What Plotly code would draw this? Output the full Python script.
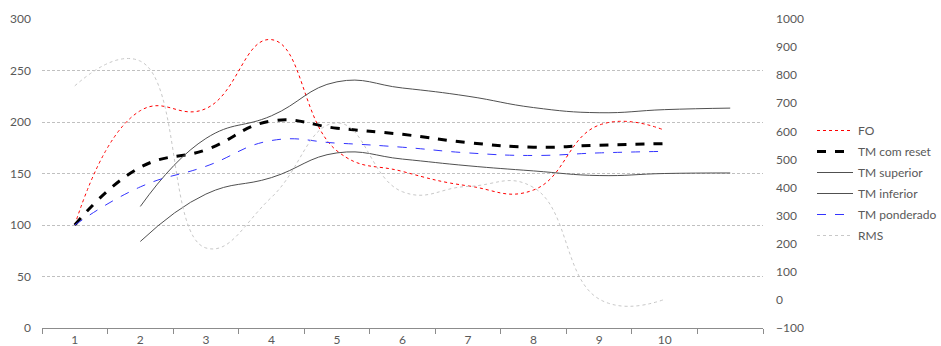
import plotly.graph_objects as go

x_main = [1, 2, 3, 4, 5, 6, 7, 8, 9, 10]
x_bounds = [2, 3, 4, 5, 6, 7, 8, 9, 10, 11]
x_tick_labels = ["1", "2", "3", "4", "5", "6", "7", "8", "9", "10"]

fo = [100, 211, 213, 280, 172, 152, 138, 134, 197, 192]
tm_reset = [100, 156, 173, 201, 194, 188, 180, 175.5, 177.5, 179]
tm_sup = [118, 184, 206, 239, 233, 225, 214, 209, 212, 213.5]
tm_inf = [84, 130, 146, 170, 164, 157.5, 152.5, 148, 150, 150.5]
tm_pond = [100, 137, 157, 182, 179.5, 175.5, 170, 167.5, 170, 171.5]
rms = [762, 850, 185, 365, 630, 385, 404, 400, 3, 2]

FONT = "Lato"
TXT = "#595959"
SM = 1.3

fig = go.Figure()
fig.add_trace(go.Scatter(x=x_main, y=fo, name="FO", mode="lines", legendgroup="a",
                         line=dict(color="#FF0000", width=1, dash="dot", shape="spline", smoothing=SM)))
fig.add_trace(go.Scatter(x=x_main, y=tm_reset, name="TM com reset", mode="lines", legendgroup="b",
                         line=dict(color="#000000", width=3, dash="dash", shape="spline", smoothing=SM)))
fig.add_trace(go.Scatter(x=x_bounds, y=tm_sup, name="TM superior", mode="lines", legendgroup="c",
                         line=dict(color="#505050", width=1, shape="spline", smoothing=SM)))
fig.add_trace(go.Scatter(x=x_bounds, y=tm_inf, name="TM inferior", mode="lines", legendgroup="d",
                         line=dict(color="#505050", width=1, shape="spline", smoothing=SM)))
fig.add_trace(go.Scatter(x=x_main, y=tm_pond, name="TM ponderado", mode="lines", legendgroup="e",
                         line=dict(color="#3333FF", width=1, dash="dash", shape="spline", smoothing=SM)))
fig.add_trace(go.Scatter(x=x_main, y=rms, name="RMS", mode="lines", yaxis="y2", legendgroup="f",
                         line=dict(color="#C8C8C8", width=1, dash="dot", shape="spline", smoothing=SM)))

fig.update_layout(
    width=941, height=346,
    margin=dict(l=42, r=178, t=19, b=18, autoexpand=False),
    paper_bgcolor="white", plot_bgcolor="white",
    font=dict(family=FONT, size=12, color=TXT),
    showlegend=True,
    legend=dict(xref="container", yref="container", x=812 / 941, y=1 - 116 / 346,
                xanchor="left", yanchor="top",
                font=dict(family=FONT, size=12, color=TXT),
                bgcolor="rgba(0,0,0,0)", itemwidth=36, tracegroupgap=2,
                traceorder="grouped"),
    xaxis=dict(range=[0.5, 11.5], tickmode="array", tickvals=x_main, ticktext=x_tick_labels,
               ticks="", showgrid=False, zeroline=False, automargin=False,
               showline=True, linecolor="#8C8C8C", linewidth=1,
               tickfont=dict(size=12, color=TXT), ticklabelstandoff=1,
               minor=dict(tick0=0.5, dtick=1, ticks="outside", ticklen=5,
                          tickcolor="#8C8C8C", showgrid=False)),
    yaxis=dict(range=[0, 300], tick0=0, dtick=50, showgrid=True, automargin=False,
               gridcolor="#C0C0C0", griddash="3px,2px", gridwidth=1,
               zeroline=False, showline=False, ticks="",
               tickfont=dict(size=12, color=TXT), ticklabelstandoff=10),
    yaxis2=dict(range=[-100, 1000], tick0=-100, dtick=100, overlaying="y", side="right",
                showgrid=False, zeroline=False, showline=False, ticks="", automargin=False,
                tickfont=dict(size=12, color=TXT), ticklabelstandoff=12),
)

fig.write_html("out.html")
